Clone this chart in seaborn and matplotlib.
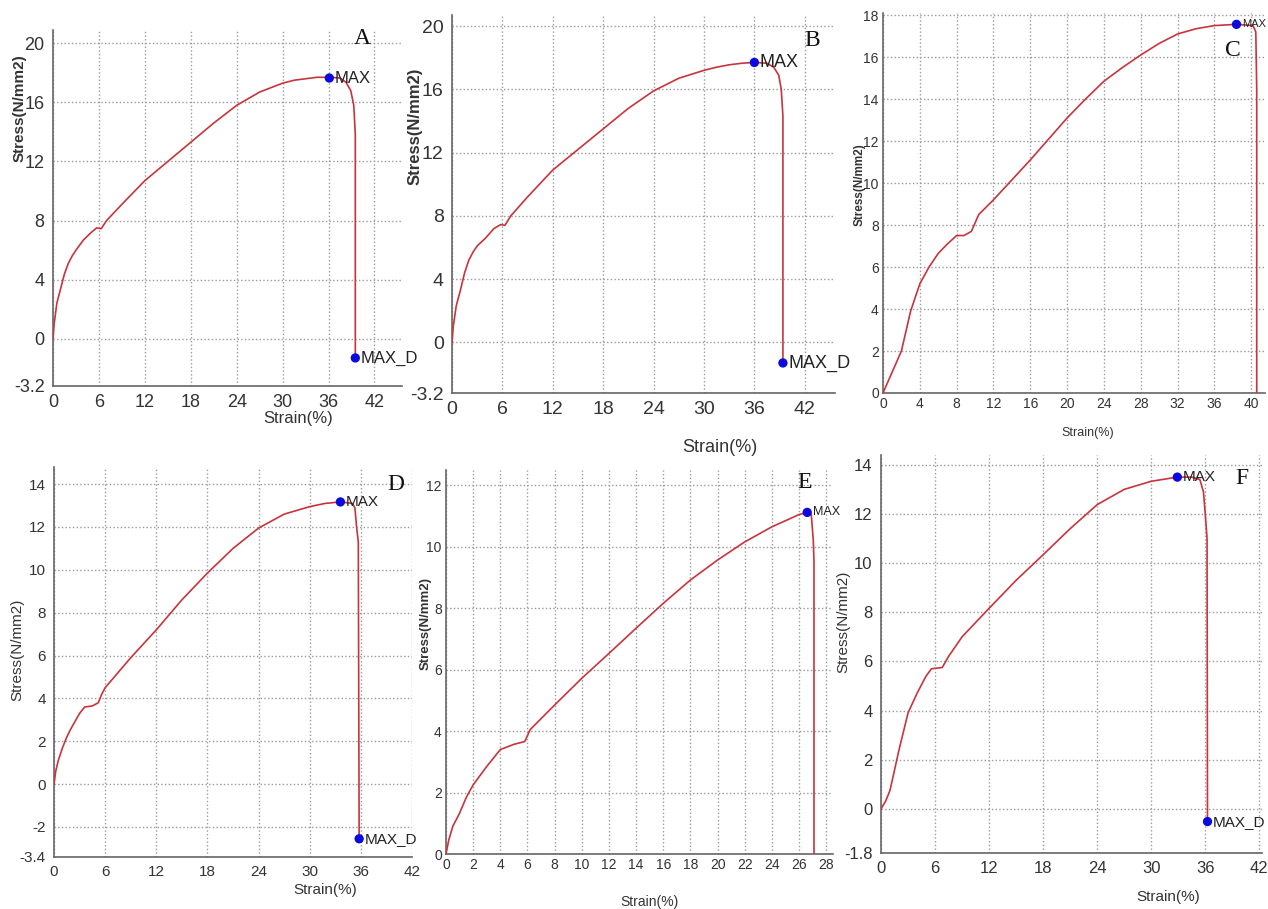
import numpy as np
import pandas as pd
import seaborn as sns
import matplotlib.pyplot as plt

W, H = 1268, 909

# panel A
strain_a = [0, 0.15, 0.5, 1, 1.5, 2, 2.5, 3, 4, 5, 5.7, 6.3, 7, 9, 12, 15, 18, 21, 24, 27, 30, 31.5, 33, 34.5, 36.1, 37.5, 38.3, 38.9, 39.3, 39.5, 39.5]
stress_a = [0, 1.0, 2.4, 3.4, 4.4, 5.1, 5.6, 6.0, 6.7, 7.2, 7.5, 7.45, 8.0, 9.1, 10.7, 12.0, 13.3, 14.6, 15.8, 16.7, 17.3, 17.5, 17.6, 17.7, 17.7, 17.65, 17.35, 16.8, 15.8, 13.8, -1.3]
max_a = (36.1, 17.65)
maxd_a = (39.5, -1.3)

# panel B
strain_b = [0, 0.15, 0.5, 1, 1.5, 2, 2.5, 3, 4, 5, 5.8, 6.3, 7, 9, 12, 15, 18, 21, 24, 27, 30, 31.5, 33, 34.5, 36.0, 37.5, 38.3, 38.9, 39.2, 39.4, 39.4]
stress_b = [0, 1.0, 2.3, 3.3, 4.4, 5.2, 5.7, 6.1, 6.6, 7.2, 7.45, 7.4, 8.0, 9.2, 10.9, 12.2, 13.5, 14.8, 15.9, 16.7, 17.2, 17.4, 17.55, 17.65, 17.7, 17.65, 17.4, 16.9, 16.0, 14.3, -1.3]
max_b = (36.0, 17.7)
maxd_b = (39.4, -1.3)

# panel C
strain_c = [0, 1, 2, 3, 4, 5, 6, 7, 8, 8.8, 9.6, 10.4, 12, 14, 16, 18, 20, 22, 24, 26, 28, 30, 32, 34, 36, 38.4, 40.2, 40.5, 40.6, 40.6]
stress_c = [0, 1.0, 2.0, 3.9, 5.2, 6.0, 6.65, 7.1, 7.5, 7.5, 7.7, 8.5, 9.2, 10.15, 11.1, 12.1, 13.1, 14.0, 14.85, 15.5, 16.1, 16.65, 17.1, 17.35, 17.5, 17.56, 17.5, 17.2, 14.5, -1.0]
max_c = (38.4, 17.56)

# panel D
strain_d = [0, 0.2, 0.5, 1, 1.5, 2, 3, 3.6, 4.5, 5.2, 5.6, 6, 9, 12, 15, 18, 21, 24, 27, 30, 31.8, 33.6, 35, 35.3, 35.5, 35.7, 35.8]
stress_d = [0, 0.6, 1.1, 1.7, 2.2, 2.6, 3.3, 3.6, 3.65, 3.8, 4.2, 4.5, 5.9, 7.2, 8.6, 9.85, 11.0, 11.95, 12.6, 12.95, 13.1, 13.17, 13.1, 12.9, 12.0, 11.3, -2.55]
max_d = (33.6, 13.17)
maxd_d = (35.8, -2.55)

# panel E
strain_e = [0, 0.2, 0.5, 1, 1.5, 2, 3, 4, 5, 5.8, 6.2, 8, 10, 12, 14, 16, 18, 20, 22, 24, 26, 26.6, 26.9, 27.05, 27.1, 27.1]
stress_e = [0, 0.45, 0.9, 1.33, 1.85, 2.25, 2.85, 3.4, 3.57, 3.66, 4.05, 4.85, 5.72, 6.53, 7.35, 8.16, 8.92, 9.57, 10.16, 10.65, 11.05, 11.12, 11.05, 10.2, 9.5, -0.5]
max_e = (26.6, 11.12)

# panel F
strain_f = [0, 0.5, 1, 2, 3, 4, 5, 5.6, 6.8, 7.5, 9, 12, 15, 18, 21, 24, 27, 30, 32.9, 34.5, 35.4, 35.8, 36.0, 36.2, 36.25]
stress_f = [0, 0.3, 0.75, 2.4, 3.9, 4.7, 5.4, 5.7, 5.75, 6.2, 7.0, 8.16, 9.3, 10.34, 11.4, 12.38, 13.0, 13.33, 13.5, 13.5, 13.4, 12.9, 12.0, 11.0, -0.52]
max_f = (32.9, 13.5)
maxd_f = (36.25, -0.52)

sns.set_style('white')
plt.rcParams['font.family'] = ['Liberation Sans', 'DejaVu Sans']

fig = plt.figure(figsize=(W / 100, H / 100), dpi=100)

# (left, top, right, bottom) in pixels, limits, ticks, label spots, letter
panels = [
    dict(box=(53, 30, 402, 386), xlim=(0, 45.6), ylim=(-3.2, 20.9),
         xt=list(range(0, 43, 6)), yt=[-3.2, 0, 4, 8, 12, 16, 20], ytl=['-3.2', '0', '4', '8', '12', '16', '20'],
         x=strain_a, y=stress_a, mx=max_a, md=maxd_a, fs=13, lfs=12, yfs=11, pad=6,
         xl=(298, 418), yl=(20, 108), bold=True, letter='A', lp=(362, 38)),
    dict(box=(452, 15, 835, 393), xlim=(0, 45.6), ylim=(-3.2, 20.7),
         xt=list(range(0, 43, 6)), yt=[-3.2, 0, 4, 8, 12, 16, 20], ytl=['-3.2', '0', '4', '8', '12', '16', '20'],
         x=strain_b, y=stress_b, mx=max_b, md=maxd_b, fs=14, lfs=13, yfs=12, pad=6,
         xl=(720, 447), yl=(415, 126), bold=True, letter='B', lp=(812, 40)),
    dict(box=(883, 13, 1265, 393), xlim=(0, 41.5), ylim=(0, 18.1),
         xt=list(range(0, 41, 4)), yt=list(range(0, 19, 2)), ytl=None,
         x=strain_c, y=stress_c, mx=max_c, md=None, fs=10, lfs=9, yfs=8.5, pad=3,
         xl=(1088, 433), yl=(860, 185), bold=True, letter='C', lp=(1233, 50)),
    dict(box=(54, 467, 412, 857), xlim=(0, 42.0), ylim=(-3.4, 14.8),
         xt=list(range(0, 43, 6)), yt=[-3.4, -2, 0, 2, 4, 6, 8, 10, 12, 14], ytl=['-3.4', '-2', '0', '2', '4', '6', '8', '10', '12', '14'],
         x=strain_d, y=stress_d, mx=max_d, md=maxd_d, fs=11, lfs=11, yfs=11, pad=6,
         xl=(325, 890), yl=(17, 650), bold=False, letter='D', lp=(396, 484)),
    dict(box=(446, 470, 833, 854), xlim=(0, 28.5), ylim=(0, 12.5),
         xt=list(range(0, 29, 2)), yt=list(range(0, 13, 2)), ytl=None,
         x=strain_e, y=stress_e, mx=max_e, md=None, fs=10, lfs=10, yfs=9.5, pad=3,
         xl=(649, 902), yl=(426, 623), bold=True, letter='E', lp=(805, 483)),
    dict(box=(881, 455, 1262, 853), xlim=(0, 42.3), ylim=(-1.8, 14.4),
         xt=list(range(0, 43, 6)), yt=[-1.8, 0, 2, 4, 6, 8, 10, 12, 14], ytl=['-1.8', '0', '2', '4', '6', '8', '10', '12', '14'],
         x=strain_f, y=stress_f, mx=max_f, md=maxd_f, fs=12, lfs=11, yfs=11, pad=6,
         xl=(1168, 897), yl=(843, 622), bold=False, letter='F', lp=(1242, 478)),
]

for p in panels:
    l, t, r, b = p['box']
    ax = fig.add_axes([l / W, 1 - b / H, (r - l) / W, (b - t) / H])
    df = pd.DataFrame({'strain': p['x'], 'stress': p['y']})
    sns.lineplot(data=df, x='strain', y='stress', sort=False, estimator=None,
                 color='#c8343c', lw=1.2, ax=ax, zorder=3)
    pts = [p['mx']] + ([p['md']] if p['md'] else [])
    sns.scatterplot(x=[q[0] for q in pts], y=[q[1] for q in pts], color='#0a0ae0',
                    s=45, edgecolor='none', ax=ax, zorder=4)
    tfs = p['lfs'] - (1 if p['fs'] <= 10 else 0)
    ax.annotate('MAX', p['mx'], xytext=(4, 0), textcoords='offset points',
                va='center', ha='left', fontsize=tfs, color='#222222')
    if p['md']:
        ax.annotate('MAX_D', p['md'], xytext=(4, 0), textcoords='offset points',
                    va='center', ha='left', fontsize=tfs, color='#222222')
    ax.set_xlim(*p['xlim'])
    ax.set_ylim(*p['ylim'])
    ax.set_xticks(p['xt'])
    ax.set_yticks(p['yt'])
    if p['ytl']:
        ax.set_yticklabels(p['ytl'])
    ax.tick_params(length=0, labelsize=p['fs'], colors='#333333', pad=p['pad'])
    ax.grid(True, linestyle=':', color='#9a9a9a', lw=1.0)
    for s in ['top', 'right']:
        ax.spines[s].set_visible(False)
    for s in ['left', 'bottom']:
        ax.spines[s].set_color('#666666')
        ax.spines[s].set_linewidth(1.2)
    ax.set_xlabel('Strain(%)', fontsize=p['lfs'], color='#333333')
    ax.set_ylabel('Stress(N/mm2)', fontsize=p['yfs'], color='#333333',
                  fontweight='bold' if p['bold'] else 'normal')
    xl, yl = p['xl'], p['yl']
    ax.xaxis.set_label_coords((xl[0] - l) / (r - l), (b - xl[1]) / (b - t))
    ax.xaxis.label.set_va('center')
    ax.yaxis.set_label_coords((yl[0] - l) / (r - l), (b - yl[1]) / (b - t))
    ax.yaxis.label.set_va('center')
    ax.text((p['lp'][0] - l) / (r - l), (b - p['lp'][1]) / (b - t), p['letter'],
            transform=ax.transAxes, ha='center', va='center', fontsize=17,
            family='Liberation Serif', color='#111111')

fig.savefig('out.png', dpi=100)
